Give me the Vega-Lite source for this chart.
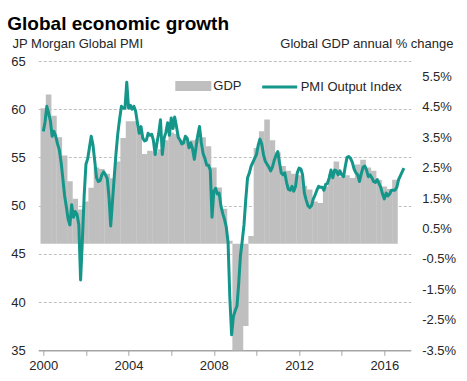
{
  "$schema": "https://vega.github.io/schema/vega-lite/v6.json",
  "width": 372.4,
  "height": 289.3,
  "autosize": {"type": "none"},
  "padding": {"left": 38.3, "top": 61, "right": 56.3, "bottom": 30.7},
  "config": {
    "font": "Liberation Sans",
    "view": {"stroke": null},
    "axis": {"labelFont": "Liberation Sans", "titleFont": "Liberation Sans"}
  },
  "title": {
    "text": "Global economic growth",
    "anchor": "start",
    "frame": "group",
    "fontSize": 19,
    "fontWeight": "bold",
    "color": "#000000",
    "dx": -31,
    "offset": 4
  },
  "datasets": {
    "pmi": [
      {"d":"2000-01-01","v":57.7},{"d":"2000-02-01","v":58.7},{"d":"2000-03-01","v":60.3},{"d":"2000-04-01","v":59.6},{"d":"2000-05-01","v":58.8},{"d":"2000-06-01","v":57.2},{"d":"2000-07-01","v":57.7},{"d":"2000-08-01","v":57.2},{"d":"2000-09-01","v":56.4},{"d":"2000-10-01","v":55.8},{"d":"2000-11-01","v":54.5},{"d":"2000-12-01","v":52.8},
      {"d":"2001-01-01","v":51.0},{"d":"2001-02-01","v":49.8},{"d":"2001-03-01","v":48.6},{"d":"2001-04-01","v":48.0},{"d":"2001-05-01","v":50.1},{"d":"2001-06-01","v":48.8},{"d":"2001-07-01","v":49.4},{"d":"2001-08-01","v":49.1},{"d":"2001-09-01","v":48.0},{"d":"2001-10-01","v":42.3},{"d":"2001-11-01","v":46.5},{"d":"2001-12-01","v":51.0},
      {"d":"2002-01-01","v":54.3},{"d":"2002-02-01","v":54.9},{"d":"2002-03-01","v":56.0},{"d":"2002-04-01","v":57.2},{"d":"2002-05-01","v":56.3},{"d":"2002-06-01","v":54.6},{"d":"2002-07-01","v":52.9},{"d":"2002-08-01","v":52.5},{"d":"2002-09-01","v":52.6},{"d":"2002-10-01","v":53.2},{"d":"2002-11-01","v":53.5},{"d":"2002-12-01","v":53.2},
      {"d":"2003-01-01","v":52.8},{"d":"2003-02-01","v":50.8},{"d":"2003-03-01","v":47.9},{"d":"2003-04-01","v":50.5},{"d":"2003-05-01","v":53.0},{"d":"2003-06-01","v":55.5},{"d":"2003-07-01","v":57.5},{"d":"2003-08-01","v":59.0},{"d":"2003-09-01","v":60.3},{"d":"2003-10-01","v":60.1},{"d":"2003-11-01","v":60.1},{"d":"2003-12-01","v":62.8},
      {"d":"2004-01-01","v":60.1},{"d":"2004-02-01","v":60.4},{"d":"2004-03-01","v":60.0},{"d":"2004-04-01","v":60.3},{"d":"2004-05-01","v":59.8},{"d":"2004-06-01","v":58.6},{"d":"2004-07-01","v":57.5},{"d":"2004-08-01","v":58.2},{"d":"2004-09-01","v":57.0},{"d":"2004-10-01","v":56.7},{"d":"2004-11-01","v":56.8},{"d":"2004-12-01","v":57.5},
      {"d":"2005-01-01","v":57.3},{"d":"2005-02-01","v":57.4},{"d":"2005-03-01","v":56.8},{"d":"2005-04-01","v":55.3},{"d":"2005-05-01","v":56.5},{"d":"2005-06-01","v":57.5},{"d":"2005-07-01","v":58.9},{"d":"2005-08-01","v":55.3},{"d":"2005-09-01","v":57.0},{"d":"2005-10-01","v":57.6},{"d":"2005-11-01","v":58.6},{"d":"2005-12-01","v":57.3},
      {"d":"2006-01-01","v":59.1},{"d":"2006-02-01","v":58.0},{"d":"2006-03-01","v":59.2},{"d":"2006-04-01","v":58.2},{"d":"2006-05-01","v":57.1},{"d":"2006-06-01","v":56.8},{"d":"2006-07-01","v":56.4},{"d":"2006-08-01","v":56.5},{"d":"2006-09-01","v":57.2},{"d":"2006-10-01","v":57.0},{"d":"2006-11-01","v":56.0},{"d":"2006-12-01","v":56.5},
      {"d":"2007-01-01","v":55.9},{"d":"2007-02-01","v":54.8},{"d":"2007-03-01","v":56.0},{"d":"2007-04-01","v":57.3},{"d":"2007-05-01","v":58.2},{"d":"2007-06-01","v":56.5},{"d":"2007-07-01","v":55.4},{"d":"2007-08-01","v":54.9},{"d":"2007-09-01","v":54.2},{"d":"2007-10-01","v":54.2},{"d":"2007-11-01","v":53.7},{"d":"2007-12-01","v":48.8},
      {"d":"2008-01-01","v":51.5},{"d":"2008-02-01","v":51.8},{"d":"2008-03-01","v":51.2},{"d":"2008-04-01","v":51.3},{"d":"2008-05-01","v":50.0},{"d":"2008-06-01","v":49.2},{"d":"2008-07-01","v":48.6},{"d":"2008-08-01","v":47.8},{"d":"2008-09-01","v":46.2},{"d":"2008-10-01","v":40.5},{"d":"2008-11-01","v":36.6},{"d":"2008-12-01","v":38.5},
      {"d":"2009-01-01","v":39.1},{"d":"2009-02-01","v":39.6},{"d":"2009-03-01","v":41.8},{"d":"2009-04-01","v":44.8},{"d":"2009-05-01","v":46.3},{"d":"2009-06-01","v":48.0},{"d":"2009-07-01","v":50.6},{"d":"2009-08-01","v":52.9},{"d":"2009-09-01","v":53.4},{"d":"2009-10-01","v":54.1},{"d":"2009-11-01","v":54.5},{"d":"2009-12-01","v":54.9},
      {"d":"2010-01-01","v":55.3},{"d":"2010-02-01","v":56.3},{"d":"2010-03-01","v":56.9},{"d":"2010-04-01","v":56.4},{"d":"2010-05-01","v":55.3},{"d":"2010-06-01","v":54.6},{"d":"2010-07-01","v":54.3},{"d":"2010-08-01","v":54.0},{"d":"2010-09-01","v":53.6},{"d":"2010-10-01","v":54.0},{"d":"2010-11-01","v":54.7},{"d":"2010-12-01","v":55.2},
      {"d":"2011-01-01","v":55.6},{"d":"2011-02-01","v":54.4},{"d":"2011-03-01","v":53.4},{"d":"2011-04-01","v":53.2},{"d":"2011-05-01","v":53.4},{"d":"2011-06-01","v":52.4},{"d":"2011-07-01","v":51.7},{"d":"2011-08-01","v":51.6},{"d":"2011-09-01","v":52.0},{"d":"2011-10-01","v":51.5},{"d":"2011-11-01","v":52.0},{"d":"2011-12-01","v":53.4},
      {"d":"2012-01-01","v":53.9},{"d":"2012-02-01","v":53.8},{"d":"2012-03-01","v":53.2},{"d":"2012-04-01","v":51.3},{"d":"2012-05-01","v":50.6},{"d":"2012-06-01","v":50.0},{"d":"2012-07-01","v":49.8},{"d":"2012-08-01","v":50.0},{"d":"2012-09-01","v":50.7},{"d":"2012-10-01","v":51.1},{"d":"2012-11-01","v":51.6},{"d":"2012-12-01","v":52.0},
      {"d":"2013-01-01","v":51.9},{"d":"2013-02-01","v":51.9},{"d":"2013-03-01","v":51.6},{"d":"2013-04-01","v":52.2},{"d":"2013-05-01","v":52.3},{"d":"2013-06-01","v":52.9},{"d":"2013-07-01","v":53.7},{"d":"2013-08-01","v":52.9},{"d":"2013-09-01","v":53.7},{"d":"2013-10-01","v":53.6},{"d":"2013-11-01","v":53.2},{"d":"2013-12-01","v":53.6},
      {"d":"2014-01-01","v":53.2},{"d":"2014-02-01","v":53.0},{"d":"2014-03-01","v":54.0},{"d":"2014-04-01","v":55.0},{"d":"2014-05-01","v":55.1},{"d":"2014-06-01","v":54.9},{"d":"2014-07-01","v":54.5},{"d":"2014-08-01","v":53.8},{"d":"2014-09-01","v":53.4},{"d":"2014-10-01","v":53.2},{"d":"2014-11-01","v":52.5},{"d":"2014-12-01","v":53.3},
      {"d":"2015-01-01","v":54.0},{"d":"2015-02-01","v":54.1},{"d":"2015-03-01","v":53.7},{"d":"2015-04-01","v":53.0},{"d":"2015-05-01","v":53.2},{"d":"2015-06-01","v":52.9},{"d":"2015-07-01","v":52.5},{"d":"2015-08-01","v":52.4},{"d":"2015-09-01","v":52.7},{"d":"2015-10-01","v":52.3},{"d":"2015-11-01","v":51.9},{"d":"2015-12-01","v":51.2},
      {"d":"2016-01-01","v":50.7},{"d":"2016-02-01","v":51.3},{"d":"2016-03-01","v":51.0},{"d":"2016-04-01","v":51.2},{"d":"2016-05-01","v":51.6},{"d":"2016-06-01","v":51.6},{"d":"2016-07-01","v":51.6},{"d":"2016-08-01","v":51.9},{"d":"2016-09-01","v":52.7},{"d":"2016-10-01","v":53.1},{"d":"2016-11-01","v":53.5},{"d":"2016-12-01","v":53.9}
    ],
    "gdp": [
      {"d":"2000-01-01","g":4.45},{"d":"2000-04-01","g":4.9},{"d":"2000-07-01","g":4.2},{"d":"2000-10-01","g":3.5},
      {"d":"2001-01-01","g":2.9},{"d":"2001-04-01","g":2.05},{"d":"2001-07-01","g":1.48},{"d":"2001-10-01","g":1.12},
      {"d":"2002-01-01","g":1.39},{"d":"2002-04-01","g":1.84},{"d":"2002-07-01","g":2.5},{"d":"2002-10-01","g":2.45},
      {"d":"2003-01-01","g":2.3},{"d":"2003-04-01","g":2.15},{"d":"2003-07-01","g":2.7},{"d":"2003-10-01","g":3.47},
      {"d":"2004-01-01","g":4.02},{"d":"2004-04-01","g":4.02},{"d":"2004-07-01","g":3.75},{"d":"2004-10-01","g":2.95},
      {"d":"2005-01-01","g":3.05},{"d":"2005-04-01","g":3.0},{"d":"2005-07-01","g":3.1},{"d":"2005-10-01","g":3.4},
      {"d":"2006-01-01","g":3.65},{"d":"2006-04-01","g":3.6},{"d":"2006-07-01","g":3.4},{"d":"2006-10-01","g":3.35},
      {"d":"2007-01-01","g":3.4},{"d":"2007-04-01","g":3.45},{"d":"2007-07-01","g":3.5},{"d":"2007-10-01","g":3.2},
      {"d":"2008-01-01","g":2.5},{"d":"2008-04-01","g":1.85},{"d":"2008-07-01","g":1.15},{"d":"2008-10-01","g":0.1},
      {"d":"2009-01-01","g":-4.0},{"d":"2009-04-01","g":-3.8},{"d":"2009-07-01","g":-2.7},{"d":"2009-10-01","g":0.25},
      {"d":"2010-01-01","g":3.14},{"d":"2010-04-01","g":3.69},{"d":"2010-07-01","g":4.08},{"d":"2010-10-01","g":3.4},
      {"d":"2011-01-01","g":3.0},{"d":"2011-04-01","g":2.55},{"d":"2011-07-01","g":2.4},{"d":"2011-10-01","g":2.3},
      {"d":"2012-01-01","g":2.25},{"d":"2012-04-01","g":1.9},{"d":"2012-07-01","g":1.78},{"d":"2012-10-01","g":1.39},
      {"d":"2013-01-01","g":1.34},{"d":"2013-04-01","g":1.88},{"d":"2013-07-01","g":2.27},{"d":"2013-10-01","g":2.7},
      {"d":"2014-01-01","g":2.2},{"d":"2014-04-01","g":2.25},{"d":"2014-07-01","g":2.16},{"d":"2014-10-01","g":2.6},
      {"d":"2015-01-01","g":2.76},{"d":"2015-04-01","g":2.5},{"d":"2015-07-01","g":2.4},{"d":"2015-10-01","g":2.1},
      {"d":"2016-01-01","g":1.88},{"d":"2016-04-01","g":1.8},{"d":"2016-07-01","g":2.1}
    ]
  },
  "layer": [
    {
      "data": {"name": "gdp"},
      "mark": {"type": "bar", "width": 5.6, "clip": true},
      "encoding": {
        "x": {
          "field": "d", "type": "temporal",
          "scale": {"type": "utc", "domain": ["2000-01-01", "2017-01-01"]},
          "axis": {
            "values": [
              {"year":2000,"utc":true},{"year":2001,"utc":true},{"year":2002,"utc":true},{"year":2003,"utc":true},{"year":2004,"utc":true},{"year":2005,"utc":true},{"year":2006,"utc":true},{"year":2007,"utc":true},{"year":2008,"utc":true},{"year":2009,"utc":true},{"year":2010,"utc":true},{"year":2011,"utc":true},{"year":2012,"utc":true},{"year":2013,"utc":true},{"year":2014,"utc":true},{"year":2015,"utc":true},{"year":2016,"utc":true},{"year":2017,"utc":true}
            ],
            "labelExpr": "utcyear(datum.value) % 4 === 0 && utcyear(datum.value) < 2017 ? utcFormat(datum.value, '%Y') : ''",
            "title": null,
            "grid": false,
            "domainColor": "#a6a6a6",
            "domainWidth": 1.5,
            "tickColor": "#a6a6a6",
            "tickWidth": 1,
            "tickSize": 5,
            "labelPadding": 4,
            "labelFontSize": 13,
            "labelColor": "#262626",
            "labelFlush": false,
            "labelOverlap": false
          }
        },
        "y": {
          "field": "g", "type": "quantitative",
          "scale": {"domain": [-3.5, 6], "nice": false, "zero": false},
          "axis": {
            "orient": "right",
            "values": [-3.5, -2.5, -1.5, -0.5, 0.5, 1.5, 2.5, 3.5, 4.5, 5.5],
            "labelExpr": "(datum.value < 0 ? '-' : '') + format(abs(datum.value), '.1f') + '%'",
            "grid": false,
            "domain": false,
            "ticks": false,
            "labelPadding": 11,
            "labelFontSize": 13,
            "labelColor": "#262626",
            "labelAlign": "left",
            "title": "Global GDP annual % change",
            "titleAngle": 0,
            "titleAlign": "right",
            "titleBaseline": "middle",
            "titleX": 42.3,
            "titleY": -17.5,
            "titleFontSize": 13,
            "titleFontWeight": "normal",
            "titleColor": "#262626"
          }
        },
        "fill": {
          "datum": "GDP",
          "scale": {"range": ["#bfbfbf"]},
          "legend": {
            "orient": "none",
            "legendX": 137,
            "legendY": 7,
            "title": null,
            "padding": 0,
            "symbolType": "M-1,-0.28H1V0.28H-1Z",
            "symbolSize": 1296,
            "symbolStrokeWidth": 0,
            "symbolOpacity": 1,
            "labelFontSize": 13,
            "labelColor": "#262626",
            "labelOffset": 2
          }
        }
      }
    },
    {
      "data": {"name": "pmi"},
      "mark": {"type": "line", "strokeWidth": 3, "strokeJoin": "round"},
      "encoding": {
        "x": {"field": "d", "type": "temporal"},
        "y": {
          "field": "v", "type": "quantitative",
          "scale": {"domain": [35, 65], "nice": false, "zero": false},
          "axis": {
            "orient": "left",
            "values": [35, 40, 45, 50, 55, 60, 65],
            "grid": true,
            "gridDash": [3, 2],
            "gridColor": "#bfbfbf",
            "gridWidth": 1,
            "domain": false,
            "ticks": false,
            "labelPadding": 13,
            "labelFontSize": 13,
            "labelColor": "#262626",
            "title": "JP Morgan Global PMI",
            "titleAngle": 0,
            "titleAlign": "left",
            "titleBaseline": "middle",
            "titleX": -26.3,
            "titleY": -17.5,
            "titleFontSize": 13,
            "titleFontWeight": "normal",
            "titleColor": "#262626"
          }
        },
        "stroke": {
          "datum": "PMI Output Index",
          "scale": {"range": ["#15968a"]},
          "legend": {
            "orient": "none",
            "legendX": 222.4,
            "legendY": 7,
            "title": null,
            "padding": 0,
            "symbolType": "stroke",
            "symbolSize": 1225,
            "symbolStrokeWidth": 3,
            "labelFontSize": 13,
            "labelColor": "#262626",
            "labelOffset": 2
          }
        }
      }
    }
  ],
  "resolve": {"scale": {"y": "independent"}}
}
